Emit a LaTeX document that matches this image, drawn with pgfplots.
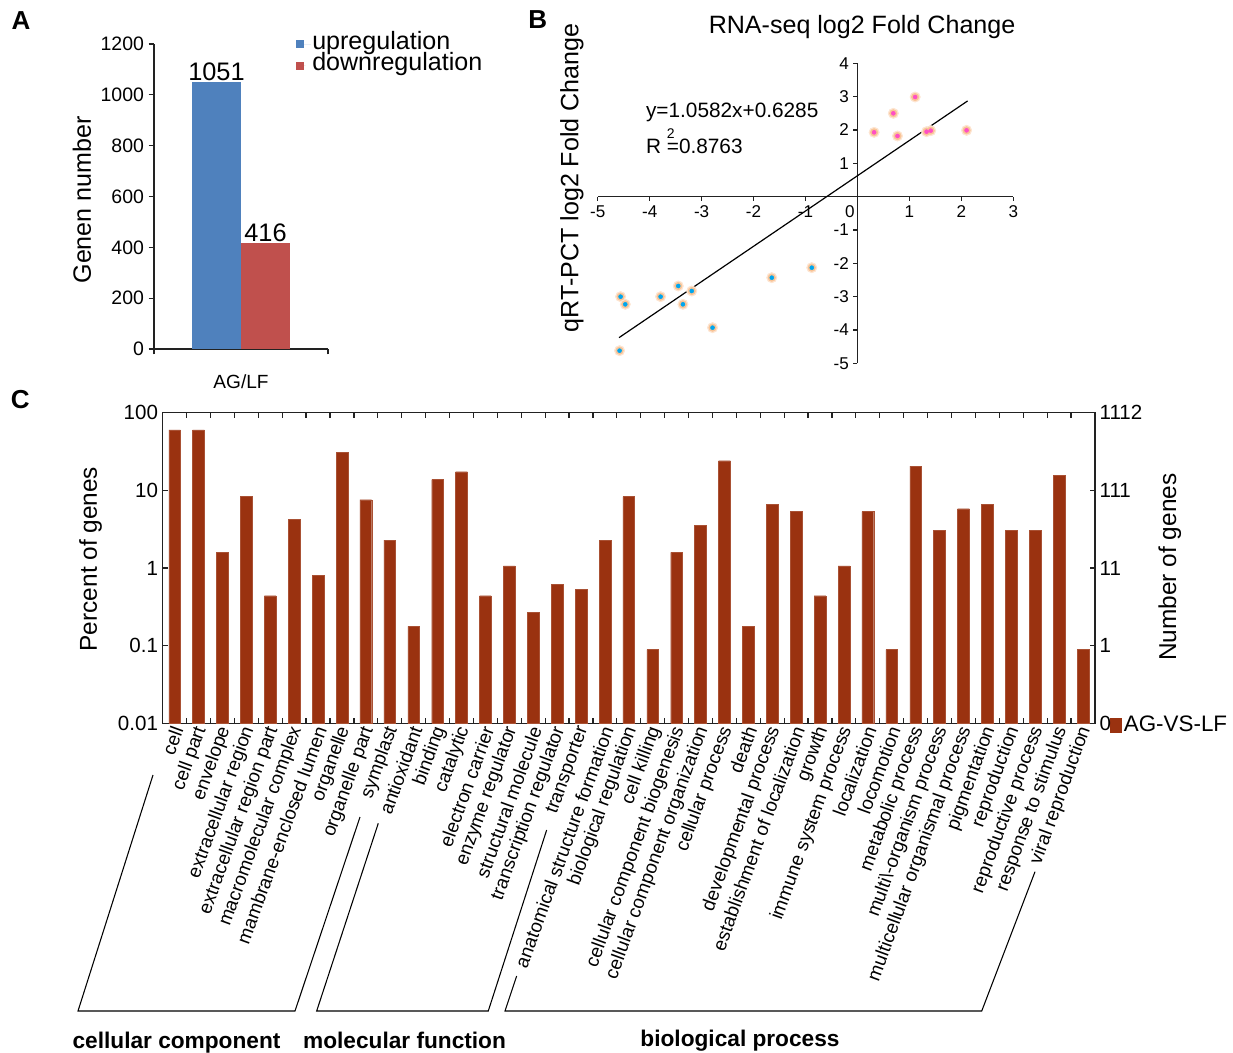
\documentclass[border=0pt]{standalone}
\usepackage{fontspec}
\setmainfont{Liberation Sans}
\usepackage{pgfplots}
\pgfplotsset{compat=1.18}
\definecolor{upblue}{HTML}{4F81BD}
\definecolor{downred}{HTML}{C0504D}
\definecolor{gobar}{HTML}{9A3210}
\definecolor{dotblue}{HTML}{00A6EE}
\definecolor{dotpink}{HTML}{FF4FC4}
\definecolor{haloA}{HTML}{FDE4D0}
\definecolor{haloB}{HTML}{F9C496}
\definecolor{axgray}{HTML}{222222}
\newcommand{\fs}[1]{\fontsize{#1}{#1}\selectfont}
\pgfplotstableread{
x y
0.32 1.93
0.69 2.50
0.77 1.82
1.11 2.99
1.33 1.95
1.41 1.98
2.10 1.99
}\uptab
\pgfplotstableread{
x y
-4.56 -3.00
-4.47 -3.23
-4.58 -4.62
-3.79 -3.00
-3.45 -2.68
-3.36 -3.23
-3.19 -2.83
-2.79 -3.93
-1.65 -2.43
-0.88 -2.13
}\downtab
\begin{document}
\begin{tikzpicture}
\path[use as bounding box] (0,0) rectangle (924.75pt,-789.75pt);

% ---------------- Panel A
\begin{axis}[
  at={(115.5pt,-261.75pt)}, anchor=south west,
  scale only axis, width=130.5pt, height=228.75pt,
  xmin=0, xmax=2, ymin=0, ymax=1200,
  axis x line=bottom, axis y line=left,
  axis line style={-, line width=0.9pt, color=axgray},
  ytick={0,200,...,1200},
  xtick={0,2}, xticklabel=\empty,
  extra x ticks={1}, extra x tick labels={AG/LF},
  extra x tick style={tick style={draw=none}},
  tick align=outside, major tick length=4pt,
  tick style={line width=0.9pt, color=axgray},
  /pgf/number format/assume math mode=true,
  /pgf/number format/1000 sep={},
  yticklabel style={font=\fs{14.6}, text=black},
  xticklabel style={font=\fs{14.3}, text=black, yshift=-12pt},
  ylabel={Genen number},
  ylabel style={at={(axis description cs:-0.414,0.489)}, anchor=center, font=\fs{18.8}},
  legend style={at={(axis description cs:0.816,1.035)}, anchor=north west, draw=none, fill=none,
    inner sep=0pt, row sep=0pt, font=\fs{18.8},
    nodes={inner sep=1pt, text height=11pt, text depth=3pt}},
  legend cell align=left,
  clip=false,
]
\addplot[ybar, bar width=36.75pt, bar shift=-18.375pt, fill=upblue, draw=none,
  nodes near coords, nodes near coords style={font=\fs{19}, text=black, inner sep=1pt, xshift=-18.375pt},
  legend image code/.code={\fill[upblue] (0pt,-3pt) rectangle (6pt,3pt); \path (0pt,0pt) -- (11pt,0pt);}]
  coordinates {(1,1051)};
\addplot[ybar, bar width=36.75pt, bar shift=18.375pt, fill=downred, draw=none,
  nodes near coords, nodes near coords style={font=\fs{19}, text=black, inner sep=1pt, xshift=18.375pt},
  legend image code/.code={\fill[downred] (0pt,-3pt) rectangle (6pt,3pt); \path (0pt,0pt) -- (7pt,0pt);}]
  coordinates {(1,416)};
\legend{upregulation, downregulation}
\end{axis}

% ---------------- Panel B
\begin{axis}[
  at={(448.3pt,-272.5pt)}, anchor=south west,
  scale only axis, width=311.7pt, height=225pt,
  xmin=-5, xmax=3, ymin=-5, ymax=4,
  axis lines=middle,
  axis line style={-, line width=0.9pt, color=axgray},
  xtick={-5,...,3}, ytick={-5,...,4},
  tick align=outside, major tick length=3pt,
  tick style={line width=0.8pt, color=axgray},
  /pgf/number format/assume math mode=true,
  ticklabel style={font=\fs{12.8}, text=black},
  title={RNA-seq log2 Fold Change},
  title style={at={(axis description cs:0.636,1)}, anchor=base, yshift=16.7pt, font=\fs{18.8}},
  ylabel={qRT-PCT log2 Fold Change},
  ylabel style={at={(axis description cs:-0.062,0.618)}, anchor=center, rotate=90, font=\fs{18.8}},
  clip=false,
]
\addplot[only marks, color=haloA, mark=*, mark size=3.9pt, mark options={solid, draw=haloA, fill=haloA}] table[x=x,y=y] {\uptab};
\addplot[only marks, color=haloB, mark=*, mark size=2.8pt, mark options={solid, draw=haloB, fill=haloB}] table[x=x,y=y] {\uptab};
\addplot[only marks, color=haloA, mark=*, mark size=3.9pt, mark options={solid, draw=haloA, fill=haloA}] table[x=x,y=y] {\downtab};
\addplot[only marks, color=haloB, mark=*, mark size=2.8pt, mark options={solid, draw=haloB, fill=haloB}] table[x=x,y=y] {\downtab};
\addplot[black, line width=0.9pt, mark=none] coordinates {(-4.59,-4.229) (2.12,2.872)};
\addplot[only marks, color=dotpink, mark=*, mark size=1.5pt, mark options={solid, draw=dotpink, fill=dotpink}] table[x=x,y=y] {\uptab};
\addplot[only marks, color=dotblue, mark=*, mark size=1.5pt, mark options={solid, draw=dotblue, fill=dotblue}] table[x=x,y=y] {\downtab};
\node[anchor=north, font=\fs{12.8}, inner sep=0.333em, yshift=-3pt] at (axis cs:-0.145,0) {0};
\node[anchor=base west, font=\fs{15.6}, inner sep=0pt] at (axis cs:-4.075,2.39) {y=1.0582x+0.6285};
\node[anchor=base west, font=\fs{15.6}, inner sep=0pt] at (axis cs:-4.075,1.31) {R \rlap{\raisebox{0.72em}{\fs{10.5}2}}=0.8763};
\end{axis}

% ---------------- Panel C
\begin{axis}[
  at={(122pt,-542.5pt)}, anchor=south west,
  scale only axis, width=699.2pt, height=232.95pt,
  ymode=log, ymin=0.01, ymax=100, log origin=infty,
  xmin=0.5, xmax=39.5,
  axis line style={line width=0.9pt, color=axgray},
  xtick={1.5,2.5,...,38.5}, xticklabel=\empty,
  xtick pos=both, ytick pos=left,
  extra x ticks={1,...,39},
  extra x tick labels={cell, cell part, envelope, extracellular region, extracellular region part, macromolecular complex, mambrane-enclosed lumen, organelle, organelle part, symplast, antioxidant, binding, catalytic, electron carrier, enzyme regulator, structural molecule, transcription regulator, transporter, anatomical structure formation, biological regulation, cell killing, cellular component biogenesis, cellular component organization, cellular process, death, developmental process, establishment of localization, growth, immune system process, localization, locomotion, metabolic process, multi\textbackslash-organism process, multicellular organismal process, pigmentation, reproduction, reproductive process, response to stimulus, viral reproduction},
  extra x tick style={tick style={draw=none}},
  xticklabel style={rotate=70, anchor=east, font=\fs{14.2}, text=black, inner sep=2pt, yshift=-3pt},
  ytick={0.01,0.1,1,10,100}, yticklabels={0.01,0.1,1,10,100}, yminorticks=false,
  tick align=inside, major tick length=3.75pt,
  tick style={line width=0.9pt, color=axgray},
  yticklabel style={font=\fs{15.4}, text=black},
  ylabel={Percent of genes},
  ylabel style={at={(axis description cs:-0.0773,0.529)}, anchor=center, font=\fs{18.3}},
  legend style={at={(axis description cs:1.016,-0.005)}, anchor=west, draw=none, fill=none,
    inner sep=0pt, font=\fs{16.8}, nodes={inner sep=2pt}},
  clip=false,
]
\addplot[ybar, bar width=8.8pt, fill=gobar, draw=gobar!85!white, line width=0.3pt,
  legend image code/.code={\fill[gobar] (0pt,-5.25pt) rectangle (8pt,5.25pt);}]
  coordinates {(1,60.4) (2,60.4) (3,1.59) (4,8.45) (5,0.44) (6,4.27) (7,0.80) (8,30.6) (9,7.59) (10,2.29)
   (11,0.178) (12,13.8) (13,17.4) (14,0.44) (15,1.07) (16,0.267) (17,0.62) (18,0.53)
   (19,2.29) (20,8.3) (21,0.089) (22,1.59) (23,3.55) (24,24.1) (25,0.178) (26,6.66) (27,5.32)
   (28,0.44) (29,1.07) (30,5.32) (31,0.089) (32,20.6) (33,3.08) (34,5.81) (35,6.6) (36,3.08)
   (37,3.08) (38,15.7) (39,0.089)};
\legend{AG-VS-LF}
\end{axis}

\begin{axis}[
  at={(122pt,-542.5pt)}, anchor=south west,
  scale only axis, width=699.2pt, height=232.95pt,
  ymode=log, ymin=0.01, ymax=100,
  xmin=0.5, xmax=39.5,
  axis x line=none, axis y line*=right,
  axis line style={-, line width=0.9pt, color=axgray},
  ytick={0.01,0.1,1,10,100}, yticklabels={0,1,11,111,1112}, yminorticks=false,
  tick align=inside, major tick length=3.75pt,
  tick style={line width=0.9pt, color=axgray},
  yticklabel style={font=\fs{15.4}, text=black},
  ylabel={Number of genes},
  ylabel style={at={(axis description cs:1.0804,0.503)}, anchor=center, font=\fs{18.3}},
]
\addplot[draw=none] coordinates {(1,1)};
\end{axis}

% brackets
\draw[line width=0.8pt, black] (114.75pt,-581.25pt) -- (58.5pt,-758.25pt) -- (221.25pt,-758.25pt) -- (270pt,-612.75pt);
\draw[line width=0.8pt, black] (283.7pt,-617.5pt) -- (237.5pt,-758.25pt) -- (366.2pt,-758.25pt) -- (410pt,-622.5pt);
\draw[line width=0.8pt, black] (387.5pt,-732pt) -- (378.75pt,-758.25pt) -- (736.3pt,-758.25pt) -- (776.25pt,-653.8pt);
\node[anchor=base, font=\fs{17}\bfseries, inner sep=0pt] at (132.4pt,-786pt) {cellular component};
\node[anchor=base, font=\fs{17}\bfseries, inner sep=0pt] at (303.4pt,-786pt) {molecular function};
\node[anchor=base, font=\fs{17}\bfseries, inner sep=0pt] at (555pt,-784.5pt) {biological process};

% panel letters
\node[anchor=base west, font=\fs{19.5}\bfseries, inner sep=0pt] at (8.5pt,-22.5pt) {A};
\node[anchor=base west, font=\fs{19.5}\bfseries, inner sep=0pt] at (396pt,-21pt) {B};
\node[anchor=base west, font=\fs{19.5}\bfseries, inner sep=0pt] at (8pt,-306pt) {C};
\end{tikzpicture}
\end{document}
